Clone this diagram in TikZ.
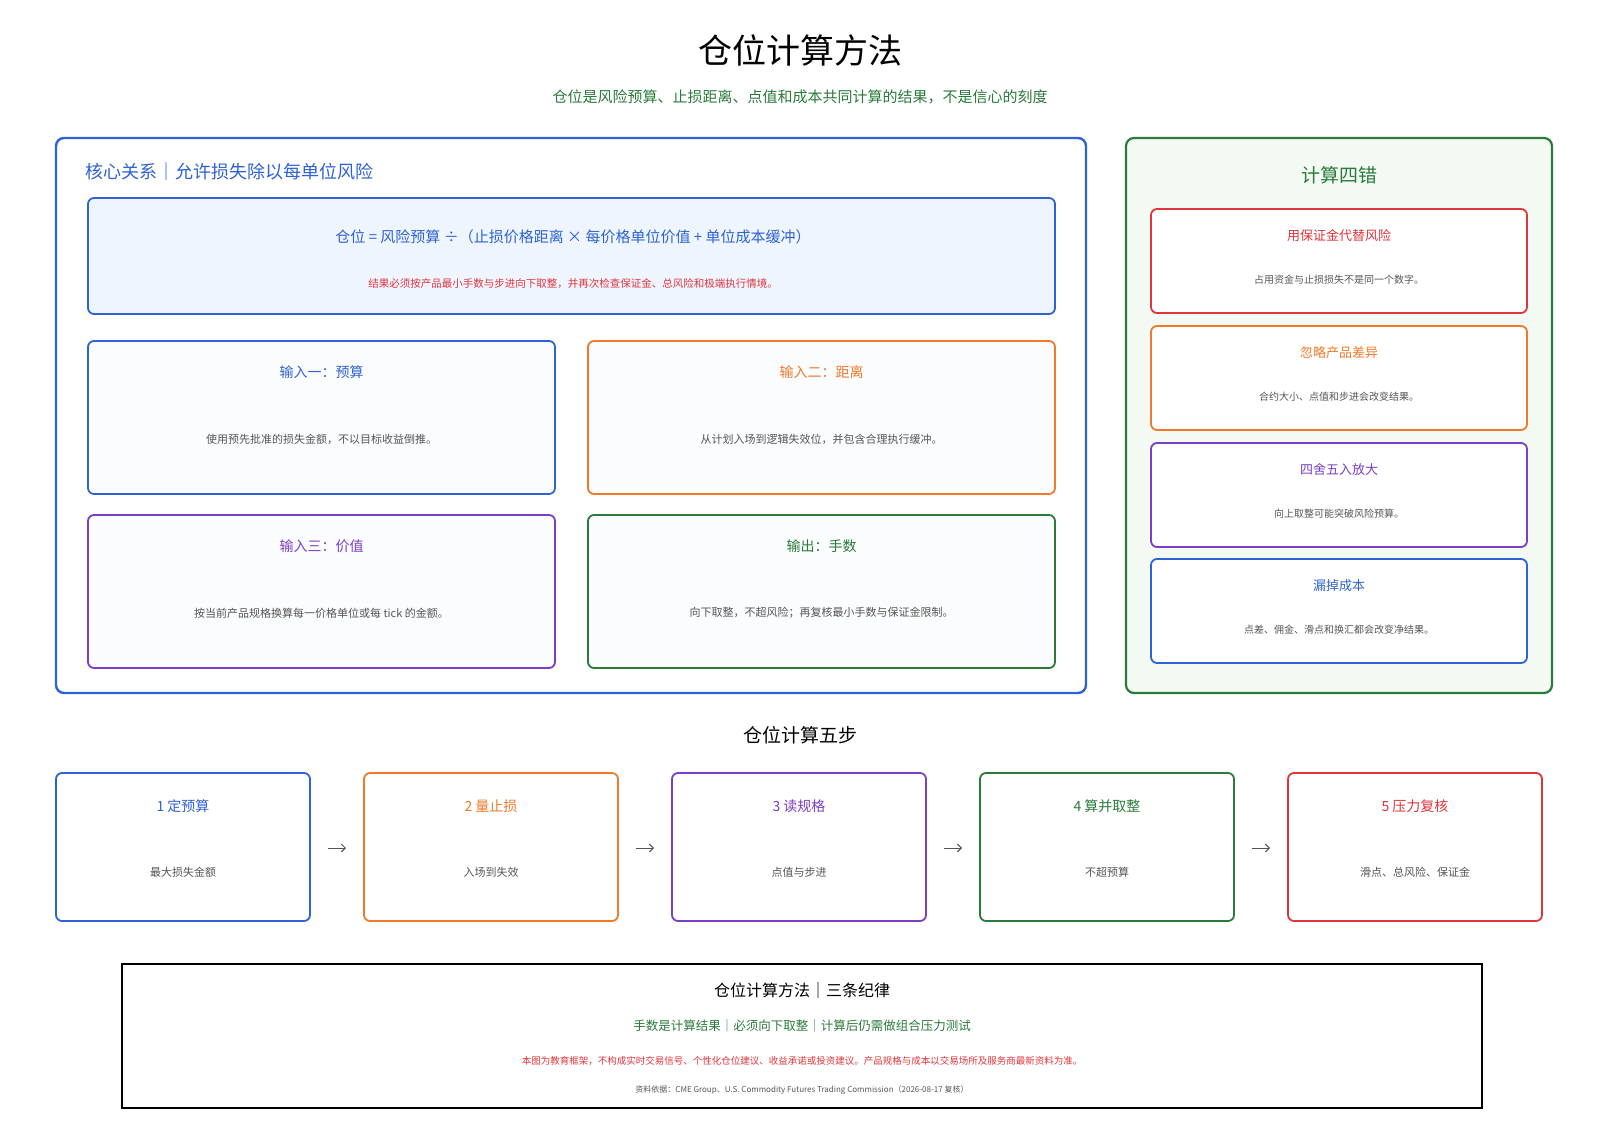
\documentclass[tikz,border=0pt]{standalone}
\usepackage{fontspec}
\setmainfont{Noto Sans CJK SC}
\usetikzlibrary{positioning,arrows.meta}
\definecolor{cblue}{HTML}{2F62D6}
\definecolor{corange}{HTML}{F07A2A}
\definecolor{cpurple}{HTML}{7A3FC6}
\definecolor{cgreen}{HTML}{2A7A3A}
\definecolor{cred}{HTML}{E0353B}
\definecolor{cgrey}{HTML}{555555}
\definecolor{fblue}{HTML}{EEF5FF}
\definecolor{fgreen}{HTML}{F3FAF3}
\definecolor{fcard}{HTML}{FBFCFE}
\newcommand{\fs}[1]{\fontsize{#1}{#1}\selectfont}
\tikzset{
  card/.style={draw=#1, line width=1.8pt, rounded corners=6pt, fill=white},
  ttl/.style={text=#1, font=\fs{14}},
  body/.style={text=cgrey, font=\fs{11}},
  nextstep/.style={-{Straight Barb[length=4pt,width=8pt]}, cgrey, line width=1pt, shorten <=18pt, shorten >=18pt}
}
\begin{document}
\begin{tikzpicture}[x=1pt,y=-1pt]
\useasboundingbox (0,0) rectangle (1600,1131);
% title
\node (title) at (800,50) {\fs{34}仓位计算方法};
\node[text=cgreen] (sub) at (800,97) {\fs{15}仓位是风险预算、止损距离、点值和成本共同计算的结果，不是信心的刻度};
% core relation
\draw[card=cblue, line width=2.4pt, rounded corners=8pt] (56,138) rectangle (1086,693);
\node[anchor=west, text=cblue] (core) at (82,172) {\fs{18}核心关系｜允许损失除以每单位风险};
\draw[card=cblue, fill=fblue] (88,198) rectangle (1055,314);
\node[text=cblue] (formula) at (573,237) {\fs{15}仓位 = 风险预算 ÷（止损价格距离 × 每价格单位价值 + 单位成本缓冲）};
\node[text=cred] (note) at (573,284) {\fs{10.5}结果必须按产品最小手数与步进向下取整，并再次检查保证金、总风险和极端执行情境。};
% inputs
\foreach \x/\y/\c/\t/\b in {
  88/341/cblue/输入一：预算/使用预先批准的损失金额，不以目标收益倒推。,
  588/341/corange/输入二：距离/从计划入场到逻辑失效位，并包含合理执行缓冲。,
  88/515/cpurple/输入三：价值/按当前产品规格换算每一价格单位或每 tick 的金额。,
  588/515/cgreen/输出：手数/向下取整，不超风险；再复核最小手数与保证金限制。}{
  \draw[card=\c, fill=fcard] (\x,\y) rectangle ++(467,153);
  \node[ttl=\c] at (\x+233.5,\y+31) {\t};
  \node[body] at (\x+233.5,\y+98) {\b};
}
% four errors
\draw[card=cgreen, fill=fgreen, line width=2.2pt, rounded corners=8pt] (1126,138) rectangle (1552,693);
\node[text=cgreen] (err) at (1339,175) {\fs{19}计算四错};
\foreach \y/\c/\t/\b in {
  209/cred/用保证金代替风险/占用资金与止损损失不是同一个数字。,
  326/corange/忽略产品差异/合约大小、点值和步进会改变结果。,
  443/cpurple/四舍五入放大/向上取整可能突破风险预算。,
  559/cblue/漏掉成本/点差、佣金、滑点和换汇都会改变净结果。}{
  \draw[card=\c] (1151,\y) rectangle ++(376,104);
  \node[ttl=\c, font=\fs{13}] at (1339,\y+27) {\t};
  \node[body, font=\fs{10}] at (1339,\y+71) {\b};
}
% five steps
\node (steps) at (800,735) {\fs{19}仓位计算五步};
\foreach \i/\x/\c/\t/\b in {
  1/56/cblue/1 定预算/最大损失金额,
  2/364/corange/2 量止损/入场到失效,
  3/672/cpurple/3 读规格/点值与步进,
  4/980/cgreen/4 算并取整/不超预算,
  5/1288/cred/5 压力复核/滑点、总风险、保证金}{
  \draw[card=\c] (\x,773) rectangle ++(254,148);
  \node[ttl=\c] at (\x+127,806) {\t};
  \node[body] at (\x+127,872) {\b};
  \coordinate (s\i l) at (\x,848);
  \coordinate (s\i r) at (\x+254,848);
}
\foreach \a/\b in {1/2,2/3,3/4,4/5}
  \draw[nextstep] (s\a r) -- (s\b l);
% rules
\draw[line width=2pt] (122,964) rectangle (1482,1108);
\node (rules) at (802,990) {\fs{16}仓位计算方法｜三条纪律};
\node[text=cgreen] (rule1) at (802,1026) {\fs{12.5}手数是计算结果｜必须向下取整｜计算后仍需做组合压力测试};
\node[text=cred] (disc) at (802,1061) {\fs{9.5}本图为教育框架，不构成实时交易信号、个性化仓位建议、收益承诺或投资建议。产品规格与成本以交易场所及服务商最新资料为准。};
\node[text=cgrey] (src) at (802,1090) {\fs{8}资料依据：CME Group、U.S. Commodity Futures Trading Commission（2026-08-17 复核）};
\end{tikzpicture}
\end{document}
